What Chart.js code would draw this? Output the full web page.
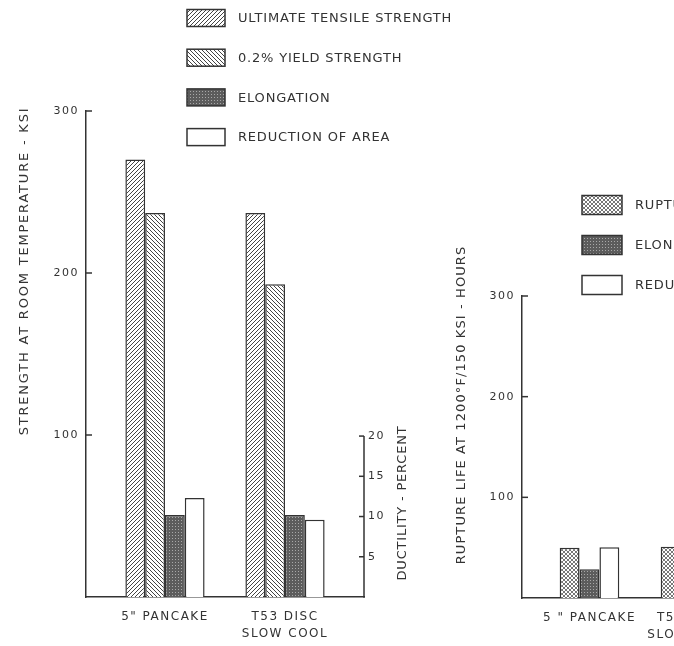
<!DOCTYPE html>
<html>
<head>
<meta charset="utf-8">
<script src="https://cdn.jsdelivr.net/npm/chart.js@4/dist/chart.umd.min.js"></script>
<style>
  html, body { margin: 0; padding: 0; background: #fff; }
  #wrap { position: relative; width: 674px; height: 646px; overflow: hidden; }
  #room { position: absolute; left: 0; top: 0; }
  #rupture { position: absolute; left: 436px; top: 0; }
</style>
</head>
<body>
<div id="wrap">
  <canvas id="room" width="480" height="646"></canvas>
  <canvas id="rupture" width="400" height="646"></canvas>
</div>
<script>
// room temperature tensile properties
const roomLabels = ['5" PANCAKE', ['T53 DISC', 'SLOW COOL']];
const ultimateTensile = [270, 237];
const yieldStrength = [237, 193];
const roomElongation = [10.2, 10.2];
const roomReduction = [12.3, 9.6];

// stress rupture at 1200F / 150 ksi
const ruptureLabels = ['5 " PANCAKE', ['T53 DISC', 'SLOW COOL']];
const ruptureLife = [50, 51];
const ruptureElongation = [5.7, 6];
const ruptureReduction = [10.1, 10];

const strengthTicks = [100, 200, 300];
const hoursTicks = [100, 200, 300];
const ductilityTicks = [5, 10, 15, 20];

const INK = '#333';
const FONT = '"DejaVu Sans", sans-serif';

function makePattern(kind) {
  const s = kind === 'dots' ? 3 : 4;
  const c = document.createElement('canvas');
  c.width = s; c.height = s;
  const g = c.getContext('2d');
  g.fillStyle = '#fff';
  g.fillRect(0, 0, s, s);
  g.strokeStyle = '#444';
  g.lineWidth = 1;
  const fwd = () => {
    g.beginPath();
    g.moveTo(-1, s + 1); g.lineTo(s + 1, -1);
    g.moveTo(-1, 1); g.lineTo(1, -1);
    g.moveTo(s - 1, s + 1); g.lineTo(s + 1, s - 1);
    g.stroke();
  };
  const back = () => {
    g.beginPath();
    g.moveTo(-1, -1); g.lineTo(s + 1, s + 1);
    g.moveTo(s - 1, -1); g.lineTo(s + 1, 1);
    g.moveTo(-1, s - 1); g.lineTo(1, s + 1);
    g.stroke();
  };
  if (kind === 'fwd') fwd();
  if (kind === 'back') back();
  if (kind === 'cross') { g.strokeStyle = '#777'; fwd(); back(); }
  if (kind === 'dots') {
    g.fillStyle = '#5c5c5c';
    g.fillRect(0, 0, s, s);
    g.fillStyle = '#a8a8a8';
    g.fillRect(1, 1, 1, 1);
  }
  return g.createPattern(c, 'repeat');
}

const points = arr => arr.map((v, i) => ({ x: i, y: v }));

const barStyle = { borderColor: INK, borderWidth: 1.5, borderSkipped: 'bottom' };

// inward tick marks, partial right axis, rotated axis titles and the boxed legend
const decor = {
  id: 'decor',
  beforeLayout(chart) { chart.ctx.letterSpacing = '1.5px'; },
  beforeDraw(chart) { chart.ctx.letterSpacing = '1.5px'; },
  afterDatasetsDraw(chart, args, opts) {
    const ctx = chart.ctx;
    const { left, right } = chart.chartArea;
    const y = chart.scales.y, y2 = chart.scales.y2;
    ctx.save();
    ctx.strokeStyle = INK;
    ctx.lineWidth = 1.5;
    const line = (x1, y1, x2, y2_) => { ctx.beginPath(); ctx.moveTo(x1, y1); ctx.lineTo(x2, y2_); ctx.stroke(); };
    y.ticks.forEach(t => { const p = y.getPixelForValue(t.value); line(left, p, left + 6, p); });
    line(right, y2.getPixelForValue(0) + 0.75, right, y2.getPixelForValue(opts.y2Top));
    y2.ticks.forEach(t => { const p = y2.getPixelForValue(t.value); line(right - 5, p, right, p); });

    ctx.fillStyle = INK;
    ctx.font = '13px ' + FONT;
    opts.titles.forEach(t => {
      ctx.save();
      ctx.letterSpacing = t.spacing + 'px';
      ctx.translate(t.x, t.y);
      ctx.rotate(-Math.PI / 2);
      ctx.textAlign = 'center';
      ctx.textBaseline = 'middle';
      ctx.fillText(t.text, 0, 0);
      ctx.restore();
    });

    const lg = opts.legend;
    ctx.letterSpacing = lg.spacing + 'px';
    chart.data.datasets.forEach((ds, i) => {
      const cy = lg.y + i * lg.dy;
      ctx.fillStyle = ds.backgroundColor;
      ctx.fillRect(lg.x, cy - lg.h / 2, lg.w, lg.h);
      ctx.strokeRect(lg.x, cy - lg.h / 2, lg.w, lg.h);
      ctx.fillStyle = INK;
      ctx.textAlign = 'left';
      ctx.textBaseline = 'middle';
      ctx.fillText(ds.label, lg.textX, cy + 1);
    });
    ctx.restore();
  }
};

function makeOptions(cfg) {
  return {
    responsive: false,
    animation: false,
    layout: { padding: { top: cfg.top, left: 0, right: 0, bottom: 0 } },
    datasets: { bar: { categoryPercentage: cfg.catPct, barPercentage: 1 } },
    plugins: {
      legend: { display: false },
      tooltip: { enabled: false },
      decor: cfg.decor
    },
    scales: {
      x: {
        type: 'linear',
        offset: false,
        min: cfg.xMin,
        max: cfg.xMax,
        afterBuildTicks: s => { s.ticks = cfg.labels.map((l, i) => ({ value: i })); },
        afterFit: s => { s.height = 646 - cfg.bottom; },
        ticks: {
          callback: v => cfg.labels[v],
          autoSkip: false, maxRotation: 0, padding: 11,
          color: INK, font: { family: FONT, size: 12, lineHeight: 1.45 }
        },
        grid: { drawOnChartArea: false, drawTicks: false },
        border: { display: true, color: INK, width: 1.5 }
      },
      y: {
        position: 'left',
        min: 0, max: 300,
        afterBuildTicks: s => { s.ticks = cfg.yTicks.map(v => ({ value: v })); },
        afterFit: s => { s.width = 86; },
        ticks: { padding: 7, color: INK, font: { family: FONT, size: 11 } },
        grid: { drawOnChartArea: false, drawTicks: false },
        border: { display: true, color: INK, width: 1.5 }
      },
      y2: {
        position: 'right',
        min: 0, max: cfg.y2Max,
        afterBuildTicks: s => { s.ticks = ductilityTicks.map(v => ({ value: v })); },
        afterFit: s => { s.width = cfg.y2Width; },
        ticks: { padding: 4, color: INK, font: { family: FONT, size: 11 } },
        grid: { drawOnChartArea: false, drawTicks: false },
        border: { display: false }
      }
    }
  };
}

const pFwd = makePattern('fwd');
const pBack = makePattern('back');
const pDots = makePattern('dots');
const pCross = makePattern('cross');

new Chart(document.getElementById('room'), {
  type: 'bar',
  data: {
    datasets: [
      { label: 'ULTIMATE TENSILE STRENGTH', data: points(ultimateTensile), yAxisID: 'y', backgroundColor: pFwd, ...barStyle },
      { label: '0.2% YIELD STRENGTH', data: points(yieldStrength), yAxisID: 'y', backgroundColor: pBack, ...barStyle },
      { label: 'ELONGATION', data: points(roomElongation), yAxisID: 'y2', backgroundColor: pDots, ...barStyle },
      { label: 'REDUCTION OF AREA', data: points(roomReduction), yAxisID: 'y2', backgroundColor: '#fff', ...barStyle }
    ]
  },
  options: makeOptions({
    top: 111, bottom: 597, catPct: 0.66, xMin: -0.658, xMax: 1.658,
    labels: roomLabels, yTicks: strengthTicks, y2Max: 60.4, y2Width: 116,
    decor: {
      y2Top: 20,
      titles: [
        { text: 'STRENGTH AT ROOM TEMPERATURE - KSI', x: 25, y: 271, spacing: 1.8 },
        { text: 'DUCTILITY - PERCENT', x: 403, y: 503, spacing: 0.8 }
      ],
      legend: { x: 187, y: 18, dy: 39.7, w: 38, h: 17, textX: 238, spacing: 0.8 }
    }
  }),
  plugins: [decor]
});

new Chart(document.getElementById('rupture'), {
  type: 'bar',
  data: {
    datasets: [
      { label: 'RUPTURE LIFE', data: points(ruptureLife), yAxisID: 'y', backgroundColor: pCross, ...barStyle },
      { label: 'ELONGATION', data: points(ruptureElongation), yAxisID: 'y2', backgroundColor: pDots, ...barStyle },
      { label: 'REDUCTION OF AREA', data: points(ruptureReduction), yAxisID: 'y2', backgroundColor: '#fff', ...barStyle }
    ]
  },
  options: makeOptions({
    top: 296, bottom: 598, catPct: 0.59, xMin: -0.668, xMax: 1.668,
    labels: ruptureLabels, yTicks: hoursTicks, y2Max: 60, y2Width: 78,
    decor: {
      y2Top: 20,
      titles: [
        { text: 'RUPTURE LIFE AT 1200\u00B0F/150 KSI - HOURS', x: 26, y: 405, spacing: 1.1 },
        { text: 'DUCTILITY - PERCENT', x: 362, y: 520, spacing: 0.8 }
      ],
      legend: { x: 146, y: 205, dy: 40, w: 40, h: 19, textX: 199, spacing: 0.8 }
    }
  }),
  plugins: [decor]
});
</script>
</body>
</html>
